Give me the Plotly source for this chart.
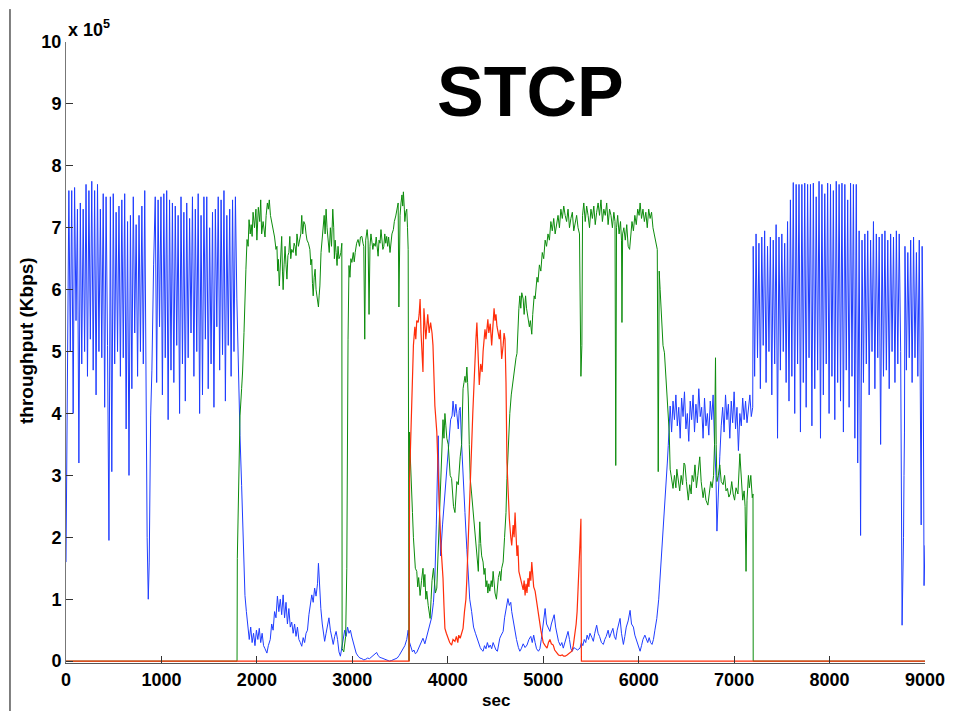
import plotly.graph_objects as go

# ---------------- data (throughput in units of 1e5 Kbps, time in sec) ----------------
# Blue flow: oscillating block 0..840 s, sampled every 15 s
blue_a_start, blue_a_step = 0, 15
blue_a_vals = [1.6, 4.5, 7.6, 5.0, 7.6, 4.0, 7.65, 5.5, 7.3, 3.2, 7.4, 4.8, 7.3, 5.0, 7.7, 4.6,
               7.6, 5.2, 7.75, 4.7, 7.6, 4.3, 7.7, 5.0, 7.3, 4.9, 7.55, 4.1, 7.5, 5.1, 1.95, 7.5,
               3.06, 7.55, 4.8, 7.25, 5.0, 7.35, 4.6, 7.45, 4.9, 7.55, 3.75, 7.1, 3.0, 7.2, 4.4,
               7.5, 5.3, 7.05, 4.6, 7.2, 5.0, 7.35, 4.8, 7.6, 3.0]
# Blue flow: dip near 860 s
blue_dip_t = [850, 862, 872, 887, 900, 918]
blue_dip_v = [2.0, 1.0, 1.6, 3.96, 4.7, 6.4]
# Blue flow: oscillating block 935..1790 s, sampled every 15 s
blue_b_start, blue_b_step = 935, 15
blue_b_vals = [7.5, 4.5, 7.45, 5.4, 7.5, 4.3, 7.55, 4.9, 7.6, 3.9, 7.45, 4.7, 7.4, 4.5, 7.35, 5.1,
               7.2, 4.0, 7.5, 4.8, 7.25, 4.2, 7.4, 4.9, 7.15, 5.3, 7.5, 4.6, 7.3, 5.0, 7.55, 4.0,
               7.2, 4.3, 7.5, 5.2, 7.5, 4.4, 7.0, 4.8, 7.25, 4.1, 7.3, 5.4, 7.5, 4.7, 7.45, 4.95,
               7.6, 4.2, 7.2, 5.1, 7.3, 4.6, 7.45, 5.0, 7.5, 5.85]
# Blue flow: 1805..7195 s
blue_mid_t = [1805, 1823, 1840, 1855, 1875, 1890, 1905, 1920, 1935, 1950, 1965, 1980, 1995, 2010,
              2025, 2040, 2055, 2070, 2085, 2105, 2120, 2140, 2155, 2170, 2185, 2200, 2215, 2230,
              2245, 2260, 2275, 2290, 2305, 2320, 2335, 2350, 2365, 2380, 2395, 2410, 2425, 2440,
              2455, 2470, 2485, 2500, 2515, 2530, 2545, 2560, 2575, 2590, 2605, 2620, 2635, 2645,
              2655, 2670, 2685, 2700, 2710, 2725, 2740, 2755, 2770, 2785, 2800, 2815, 2830, 2845,
              2860, 2875, 2890, 2905, 2920, 2935, 2950, 2965, 2980, 2995, 3010, 3025, 3040, 3060,
              3080, 3100, 3120, 3140, 3160, 3180, 3200, 3220, 3240, 3255, 3270, 3290, 3310, 3330,
              3350, 3370, 3390, 3410, 3430, 3450, 3470, 3490, 3510, 3530, 3550, 3570, 3585, 3600,
              3615, 3630, 3645, 3660, 3675, 3690, 3705, 3720, 3740, 3760, 3780, 3800, 3815, 3830,
              3850, 3865, 3880, 3890, 3900, 3910, 3925, 3945, 3965, 3990, 4010, 4030, 4045, 4055,
              4070, 4085, 4095, 4110, 4120, 4130, 4145, 4160, 4180, 4200, 4215, 4230, 4250, 4270,
              4290, 4305, 4320, 4340, 4355, 4370, 4385, 4400, 4415, 4430, 4445, 4460, 4475, 4490,
              4505, 4520, 4535, 4545, 4560, 4580, 4595, 4610, 4630, 4645, 4660, 4670, 4690, 4705,
              4720, 4740, 4755, 4770, 4790, 4810, 4830, 4850, 4870, 4885, 4900, 4915, 4930, 4950,
              4965, 4980, 4995, 5010, 5020, 5035, 5050, 5070, 5085, 5100, 5115, 5130, 5145, 5160,
              5180, 5195, 5210, 5225, 5245, 5260, 5275, 5290, 5305, 5320, 5340, 5360, 5385, 5400,
              5415, 5430, 5445, 5460, 5475, 5490, 5510, 5525, 5540, 5560, 5575, 5590, 5610, 5630,
              5645, 5660, 5680, 5695, 5710, 5730, 5745, 5760, 5775, 5790, 5805, 5820, 5840, 5855,
              5870, 5890, 5910, 5925, 5945, 5960, 5975, 5990, 6005, 6015, 6030, 6045, 6065, 6080,
              6095, 6110, 6125, 6140, 6155, 6170, 6190, 6210, 6225, 6245, 6260, 6275, 6285, 6300,
              6310, 6320, 6330, 6345, 6360, 6375, 6390, 6405, 6420, 6435, 6450, 6465, 6480, 6495,
              6510, 6525, 6540, 6555, 6570, 6585, 6600, 6615, 6630, 6645, 6660, 6675, 6690, 6705,
              6720, 6735, 6750, 6765, 6780, 6795, 6810, 6820, 6835, 6850, 6865, 6880, 6895, 6910,
              6925, 6940, 6955, 6970, 6985, 7000, 7015, 7030, 7045, 7060, 7075, 7090, 7105, 7120,
              7135, 7150, 7165, 7180, 7195]
blue_mid_v = [4.6, 3.64, 2.84, 2.03, 1.06, 0.8, 0.5, 0.35, 0.55, 0.3, 0.45, 0.25, 0.5, 0.35,
              0.53, 0.3, 0.45, 0.25, 0.2, 0.13, 0.25, 0.35, 0.6, 0.5, 0.8, 0.7, 1.05, 0.8,
              1.0, 0.75, 1.07, 0.7, 0.95, 0.6, 0.85, 0.55, 0.63, 0.45, 0.6, 0.4, 0.55, 0.35,
              0.3, 0.24, 0.38, 0.3, 0.45, 0.5, 0.75, 0.9, 1.07, 0.95, 1.18, 1.05, 1.25, 1.58,
              1.2, 0.85, 0.6, 0.4, 0.32, 0.45, 0.6, 0.7, 0.5, 0.35, 0.27, 0.4, 0.48, 0.35,
              0.15, 0.08, 0.2, 0.35, 0.5, 0.4, 0.55, 0.45, 0.5, 0.39, 0.3, 0.2, 0.13, 0.08,
              0.05, 0.04, 0.02, 0.03, 0.05, 0.04, 0.07, 0.09, 0.12, 0.14, 0.09, 0.06, 0.05, 0.04,
              0.03, 0.02, 0.0, 0.01, 0.02, 0.03, 0.05, 0.09, 0.14, 0.18, 0.25, 0.35, 0.5, 0.3,
              0.22, 0.15, 0.18, 0.12, 0.14, 0.2, 0.25, 0.3, 0.37, 0.28, 0.4, 0.5, 0.58, 0.7,
              0.95, 1.34, 2.2, 3.0, 3.64, 2.6, 1.7, 2.2, 2.6, 2.95, 3.5, 3.9, 3.96, 4.2,
              3.95, 4.15, 4.0, 3.75, 4.05, 4.1, 3.5, 2.9, 2.4, 1.8, 1.34, 1.0, 0.8, 0.55,
              0.45, 0.37, 0.3, 0.22, 0.18, 0.16, 0.25, 0.2, 0.3, 0.22, 0.26, 0.2, 0.3, 0.22,
              0.18, 0.16, 0.3, 0.37, 0.42, 0.48, 0.7, 0.85, 1.01, 0.9, 0.95, 0.8, 0.6, 0.48,
              0.35, 0.22, 0.16, 0.2, 0.28, 0.22, 0.26, 0.35, 0.4, 0.3, 0.42, 0.3, 0.2, 0.16,
              0.2, 0.35, 0.55, 0.7, 0.85, 0.6, 0.55, 0.48, 0.6, 0.7, 0.75, 0.55, 0.4, 0.32,
              0.25, 0.3, 0.21, 0.3, 0.4, 0.48, 0.35, 0.2, 0.16, 0.22, 0.2, 0.18, 0.21, 0.3,
              0.25, 0.35, 0.3, 0.42, 0.35, 0.45, 0.38, 0.32, 0.45, 0.58, 0.45, 0.4, 0.3, 0.27,
              0.35, 0.4, 0.5, 0.38, 0.45, 0.53, 0.4, 0.35, 0.5, 0.6, 0.69, 0.45, 0.27, 0.4,
              0.55, 0.65, 0.82, 0.6, 0.55, 0.42, 0.35, 0.25, 0.2, 0.16, 0.25, 0.35, 0.42, 0.35,
              0.3, 0.38, 0.3, 0.27, 0.35, 0.5, 0.69, 1.0, 1.34, 1.8, 2.14, 2.5, 2.79, 3.2,
              3.48, 3.8, 4.12, 3.7, 4.2, 3.9, 4.3, 3.8, 4.1, 3.6, 4.25, 3.95, 4.35, 3.75,
              4.0, 3.55, 4.2, 3.9, 4.3, 3.7, 4.15, 3.85, 4.4, 3.95, 4.1, 3.6, 4.25, 3.8,
              4.0, 3.65, 4.2, 3.9, 4.3, 3.5, 3.0, 2.1, 2.8, 3.3, 3.8, 4.1, 3.7, 4.3,
              3.9, 4.15, 3.6, 4.2, 3.85, 4.35, 3.75, 4.1, 3.4, 4.0, 3.8, 4.25, 3.9, 4.2,
              3.85, 4.1, 4.3, 3.95, 4.1]
# Blue flow: oscillating block 7200..8745 s, sampled every 15 s
blue_c_start, blue_c_step = 7200, 15
blue_c_vals = [6.7, 4.6, 6.9, 4.9, 6.75, 4.4, 6.85, 5.1, 6.95, 4.5, 6.7, 5.0, 6.85, 4.3, 6.8, 4.8,
               7.05, 3.6, 6.85, 4.7, 6.9, 5.0, 6.75, 4.5, 7.1, 4.2, 7.45, 4.6, 7.73, 4.0, 7.7, 4.8,
               7.7, 3.7, 7.7, 4.5, 7.72, 4.1, 7.7, 4.9, 7.7, 3.8, 7.72, 4.4, 7.5, 4.7, 7.75, 3.6,
               7.7, 4.3, 7.55, 4.8, 7.72, 4.0, 7.7, 4.6, 7.6, 3.9, 7.75, 4.5, 7.7, 4.2, 7.72, 3.7,
               7.7, 4.7, 7.45, 4.1, 7.72, 4.6, 7.7, 3.6, 7.7, 3.2, 6.95, 2.03, 6.8, 4.5, 6.9, 4.8,
               6.95, 4.3, 6.8, 5.0, 7.1, 4.4, 6.9, 4.9, 6.85, 3.5, 6.9, 4.6, 6.95, 4.7, 6.8, 4.4,
               6.9, 5.0, 6.85, 4.5, 6.95, 4.8, 6.9, 5.0]
# Blue flow: tail 8760..9000 s
blue_tail_t = [8760, 8770, 8775, 8780, 8785, 8790, 8805, 8820, 8835, 8850, 8865, 8880, 8895,
               8910, 8925, 8940, 8950, 8960, 8970, 8980, 8990, 9000]
blue_tail_v = [0.58, 1.45, 2.0, 3.0, 3.7, 6.7, 4.7, 6.6, 4.9, 6.8, 4.5, 6.85, 4.9,
               6.6, 4.6, 6.8, 4.9, 2.2, 6.7, 5.3, 1.22, 1.87]

# Green flow
green_t = [0, 1792, 1795, 1805, 1812, 1823, 1840, 1850, 1865, 1875, 1885, 1897, 1908, 1918, 1930,
           1940, 1950, 1960, 1975, 1990, 2000, 2015, 2030, 2040, 2050, 2065, 2075, 2085, 2097,
           2110, 2120, 2130, 2142, 2155, 2170, 2185, 2200, 2210, 2218, 2225, 2235, 2248, 2260,
           2268, 2275, 2285, 2295, 2305, 2315, 2325, 2335, 2345, 2355, 2365, 2380, 2390, 2400,
           2410, 2420, 2435, 2450, 2460, 2470, 2480, 2492, 2505, 2515, 2525, 2540, 2555, 2565,
           2575, 2582, 2590, 2600, 2610, 2620, 2630, 2645, 2652, 2660, 2672, 2685, 2695, 2705,
           2715, 2725, 2735, 2745, 2758, 2770, 2782, 2795, 2805, 2812, 2820, 2830, 2840, 2850,
           2860, 2870, 2880, 2890, 2893, 2910, 2930, 2942, 2947, 2955, 2965, 2975, 2985, 2995,
           3010, 3020, 3030, 3045, 3060, 3075, 3085, 3100, 3112, 3120, 3130, 3140, 3155, 3165,
           3175, 3185, 3195, 3205, 3215, 3225, 3240, 3250, 3260, 3270, 3280, 3290, 3300, 3310,
           3320, 3330, 3340, 3350, 3360, 3370, 3380, 3395, 3405, 3415, 3430, 3440, 3455, 3465,
           3480, 3488, 3500, 3510, 3520, 3528, 3535, 3545, 3550, 3560, 3570, 3578, 3585, 3594,
           3600, 3610, 3620, 3630, 3640, 3650, 3660, 3675, 3685, 3695, 3710, 3725, 3740, 3750,
           3760, 3770, 3780, 3795, 3805, 3815, 3825, 3835, 3850, 3860, 3870, 3885, 3895, 3905,
           3920, 3935, 3950, 3960, 3970, 3980, 3990, 4005, 4015, 4025, 4040, 4050, 4060, 4075,
           4085, 4095, 4110, 4120, 4130, 4145, 4155, 4160, 4170, 4180, 4190, 4200, 4208, 4215,
           4225, 4235, 4250, 4260, 4270, 4285, 4300, 4310, 4320, 4328, 4335, 4345, 4355, 4370,
           4380, 4390, 4400, 4410, 4420, 4430, 4440, 4455, 4465, 4475, 4485, 4495, 4510, 4520,
           4530, 4545, 4555, 4565, 4580, 4595, 4610, 4620, 4635, 4650, 4665, 4685, 4700, 4715,
           4725, 4735, 4745, 4755, 4765, 4775, 4790, 4800, 4815, 4825, 4840, 4855, 4865, 4880,
           4890, 4905, 4915, 4925, 4935, 4945, 4960, 4975, 4990, 5005, 5020, 5035, 5050, 5065,
           5080, 5095, 5110, 5125, 5140, 5155, 5170, 5185, 5200, 5215, 5230, 5245, 5260, 5275,
           5290, 5305, 5320, 5335, 5350, 5365, 5380, 5395, 5405, 5412, 5425, 5440, 5455, 5470,
           5485, 5500, 5515, 5530, 5545, 5560, 5575, 5590, 5605, 5620, 5635, 5650, 5665, 5680,
           5695, 5710, 5725, 5740, 5752, 5760, 5768, 5780, 5795, 5810, 5820, 5825, 5832, 5845,
           5860, 5875, 5890, 5905, 5915, 5930, 5945, 5960, 5975, 5990, 6005, 6015, 6030, 6045,
           6060, 6075, 6090, 6105, 6120, 6135, 6150, 6165, 6175, 6185, 6195, 6205, 6215, 6225,
           6240, 6255, 6270, 6285, 6300, 6310, 6320, 6330, 6345, 6360, 6375, 6390, 6400, 6415,
           6430, 6445, 6460, 6475, 6485, 6500, 6520, 6535, 6550, 6560, 6575, 6590, 6605, 6620,
           6640, 6655, 6675, 6690, 6705, 6725, 6740, 6755, 6770, 6785, 6795, 6805, 6812, 6820,
           6835, 6850, 6865, 6885, 6900, 6915, 6930, 6945, 6960, 6975, 6990, 7005, 7020, 7040,
           7060, 7075, 7090, 7105, 7115, 7125, 7135, 7150, 7160, 7175, 7190, 7198, 7200, 9000]
green_v = [0.0, 0.0, 1.66, 2.6, 3.6, 3.96, 4.4, 4.67, 5.31, 5.96, 6.33, 6.81, 6.7, 7.13, 6.9,
           7.05, 6.86, 7.25, 7.0, 7.3, 6.8, 7.33, 7.1, 7.45, 6.9, 7.1, 6.95, 6.85, 7.2,
           7.4, 7.3, 7.45, 7.2, 7.1, 6.97, 6.85, 6.65, 6.7, 6.3, 6.49, 6.06, 6.5, 6.86,
           6.3, 6.0, 6.4, 6.7, 6.4, 6.17, 6.55, 6.6, 6.86, 6.5, 6.65, 6.6, 6.75, 6.7,
           6.55, 6.9, 6.7, 6.8, 6.9, 7.2, 6.9, 7.1, 7.05, 6.9, 6.8, 6.75, 6.65, 6.4,
           6.49, 6.1, 5.9, 6.2, 6.33, 6.0, 5.9, 5.72, 5.9, 6.06, 6.6, 6.9, 7.0, 7.2,
           6.9, 7.3, 7.0, 6.8, 6.6, 7.0, 6.7, 7.3, 7.0, 6.5, 6.8, 6.6, 6.39, 6.7,
           6.5, 6.54, 6.6, 6.75, 0.2, 0.15, 0.4, 1.5, 4.12, 5.2, 6.39, 6.2, 6.5, 6.44,
           6.6, 6.45, 6.6, 6.75, 6.81, 6.7, 6.85, 6.86, 6.75, 6.7, 5.2, 6.8, 6.97, 6.8,
           5.6, 6.7, 6.9, 6.8, 6.65, 6.75, 6.7, 6.85, 6.6, 6.54, 6.8, 6.75, 6.97, 6.8,
           6.65, 6.7, 6.9, 6.75, 6.86, 6.7, 6.85, 6.6, 6.8, 6.9, 6.97, 7.1, 7.19, 7.3,
           7.4, 5.72, 7.2, 7.4, 7.53, 7.35, 7.58, 7.3, 7.1, 7.25, 7.3, 7.0, 6.65, 0.0,
           3.7, 3.2, 2.9, 2.4, 2.0, 1.8, 1.5, 1.45, 1.2, 1.35, 1.06, 1.3, 1.5, 1.2,
           1.4, 1.0, 1.13, 0.9, 0.8, 0.69, 1.0, 1.3, 1.5, 1.3, 1.1, 1.18, 1.6, 2.0,
           2.4, 3.2, 3.9, 3.6, 4.0, 3.8, 3.6, 3.5, 3.2, 3.0, 2.95, 2.7, 2.5, 2.4,
           2.6, 2.9, 2.85, 3.1, 3.3, 3.5, 4.0, 4.4, 4.5, 4.6, 4.5, 4.75, 4.5, 4.25,
           3.5, 2.95, 2.7, 2.5, 2.3, 2.14, 1.8, 1.6, 1.45, 1.9, 2.25, 1.9, 1.7, 1.6,
           1.4, 1.5, 1.2, 1.3, 1.1, 1.25, 1.13, 1.3, 1.2, 1.45, 1.2, 1.1, 1.0, 1.2,
           1.35, 1.45, 1.3, 1.5, 1.6, 2.0, 2.4, 2.95, 3.5, 4.0, 4.3, 4.56, 4.7, 4.9,
           4.97, 5.52, 5.7, 5.9, 5.7, 5.95, 5.85, 5.6, 5.9, 5.7, 5.57, 5.4, 5.5, 5.28,
           5.6, 5.9, 5.85, 6.0, 6.2, 6.12, 6.4, 6.3, 6.6, 6.5, 6.8, 6.7, 6.9, 6.8,
           7.1, 6.95, 7.15, 6.9, 7.05, 7.2, 7.0, 7.3, 7.15, 7.35, 7.2, 7.1, 7.3, 7.0,
           7.15, 7.25, 6.95, 7.1, 7.2, 7.0, 6.9, 4.6, 5.1, 7.2, 7.4, 7.1, 7.35, 7.2,
           7.0, 7.3, 7.15, 7.35, 7.05, 7.25, 7.4, 7.2, 7.45, 7.1, 7.3, 7.2, 7.4, 7.05,
           7.3, 7.2, 7.0, 7.25, 7.1, 3.16, 7.0, 7.2, 6.9, 7.1, 6.8, 5.47, 6.9, 7.0,
           6.8, 7.05, 6.7, 6.65, 6.9, 7.1, 6.95, 7.2, 7.05, 7.3, 7.2, 7.4, 7.15, 7.3,
           7.1, 7.25, 7.0, 7.3, 7.15, 7.25, 7.0, 6.9, 6.8, 6.75, 6.65, 3.06, 6.3, 6.0,
           5.63, 5.1, 4.98, 4.6, 4.35, 3.9, 3.7, 3.1, 2.9, 2.79, 3.0, 2.8, 3.1, 2.9,
           2.75, 3.0, 2.85, 3.2, 3.17, 2.9, 2.6, 2.85, 2.7, 3.0, 2.9, 3.17, 2.8, 3.0,
           3.3, 2.9, 2.64, 2.8, 2.6, 2.52, 2.75, 2.9, 2.8, 3.0, 3.5, 4.9, 3.5, 2.9,
           3.0, 3.17, 2.9, 2.85, 3.0, 2.75, 2.79, 2.65, 2.7, 2.9, 2.7, 2.6, 2.8, 2.7,
           3.35, 2.9, 2.6, 2.75, 2.5, 1.45, 2.6, 3.0, 2.8, 3.0, 2.64, 2.7, 0.0, 0.0]

# Red flow
red_t = [0, 3594, 3600, 3625, 3640, 3655, 3665, 3675, 3690, 3700, 3710, 3720, 3730, 3740, 3750,
         3760, 3770, 3780, 3790, 3805, 3820, 3835, 3845, 3855, 3865, 3885, 3900, 3920, 3935,
         3950, 3960, 3970, 3985, 4005, 4020, 4040, 4055, 4075, 4090, 4105, 4115, 4130, 4145,
         4160, 4175, 4190, 4200, 4215, 4225, 4240, 4250, 4262, 4275, 4285, 4295, 4305, 4315,
         4322, 4330, 4345, 4360, 4370, 4380, 4390, 4400, 4410, 4420, 4430, 4445, 4460, 4470,
         4485, 4495, 4505, 4515, 4530, 4540, 4550, 4565, 4580, 4590, 4600, 4610, 4620, 4630,
         4645, 4660, 4670, 4685, 4695, 4705, 4715, 4725, 4735, 4745, 4760, 4775, 4790, 4800,
         4810, 4820, 4830, 4840, 4850, 4860, 4870, 4880, 4890, 4900, 4915, 4930, 4945, 4960,
         4975, 4985, 5000, 5020, 5040, 5055, 5070, 5085, 5105, 5120, 5140, 5160, 5180, 5200,
         5215, 5230, 5250, 5270, 5285, 5300, 5315, 5330, 5345, 5355, 5365, 5375, 5385, 5395,
         5400, 9000]
red_v = [0.0, 0.0, 2.95, 4.28, 5.1, 5.4, 5.2, 5.5, 5.47, 5.6, 5.85, 5.3, 5.0, 4.67, 5.7,
         5.5, 5.2, 5.4, 5.6, 5.3, 5.47, 5.3, 5.1, 4.6, 4.12, 3.7, 2.95, 2.14, 1.7,
         1.34, 0.9, 0.53, 0.45, 0.37, 0.3, 0.26, 0.35, 0.32, 0.4, 0.3, 0.42, 0.37, 0.45,
         0.53, 0.8, 1.0, 1.34, 1.9, 2.4, 3.0, 3.48, 4.0, 4.56, 5.0, 5.2, 5.47, 5.0,
         4.7, 4.46, 4.8, 4.67, 5.0, 5.2, 5.36, 5.2, 5.4, 5.52, 5.3, 5.45, 5.1, 5.4,
         5.7, 5.5, 5.6, 5.41, 5.3, 5.2, 5.35, 4.88, 5.1, 5.3, 5.2, 4.5, 3.2, 2.68,
         2.3, 2.0, 1.87, 2.2, 2.0, 2.4, 2.0, 1.7, 1.87, 1.45, 1.35, 1.24, 1.15, 1.3,
         1.06, 1.25, 1.1, 1.34, 1.2, 1.45, 1.3, 1.6, 1.3, 1.2, 1.13, 0.95, 0.8, 0.6,
         0.5, 0.42, 0.3, 0.25, 0.21, 0.3, 0.35, 0.28, 0.26, 0.18, 0.14, 0.1, 0.09, 0.1,
         0.08, 0.08, 0.1, 0.12, 0.14, 0.16, 0.25, 0.4, 0.6, 0.8, 1.1, 1.5, 1.9, 2.3,
         0.0, 0.0]

x_ticks = [0, 1000, 2000, 3000, 4000, 5000, 6000, 7000, 8000, 9000]
y_ticks = [0, 1, 2, 3, 4, 5, 6, 7, 8, 9, 10]

# ---------------- assemble blue series ----------------
blue_t, blue_v = [], []
blue_t += [blue_a_start + i * blue_a_step for i in range(len(blue_a_vals))]
blue_v += blue_a_vals
blue_t += blue_dip_t
blue_v += blue_dip_v
blue_t += [blue_b_start + i * blue_b_step for i in range(len(blue_b_vals))]
blue_v += blue_b_vals
blue_t += blue_mid_t
blue_v += blue_mid_v
blue_t += [blue_c_start + i * blue_c_step for i in range(len(blue_c_vals))]
blue_v += blue_c_vals
blue_t += blue_tail_t
blue_v += blue_tail_v

FONT = "Liberation Sans, Arial, Helvetica, sans-serif"

fig = go.Figure()
fig.add_trace(go.Scatter(x=blue_t, y=blue_v, mode="lines",
                         line=dict(color="#1f3dff", width=1), showlegend=False))
fig.add_trace(go.Scatter(x=green_t, y=green_v, mode="lines",
                         line=dict(color="#0c8c0c", width=1), showlegend=False))
fig.add_trace(go.Scatter(x=red_t, y=red_v, mode="lines",
                         line=dict(color="#ff2d0a", width=1.2), showlegend=False))

fig.update_layout(
    width=972, height=711,
    margin=dict(l=58, r=55, t=34, b=56),
    paper_bgcolor="white", plot_bgcolor="white",
    font=dict(family=FONT, color="black"),
    xaxis=dict(range=[0, 9000], tickvals=x_ticks, ticktext=[str(v) for v in x_ticks],
               ticks="inside", ticklen=7, tickwidth=1, tickcolor="#333333",
               showline=True, linecolor="#555555", linewidth=1,
               showgrid=False, zeroline=False,
               tickfont=dict(family=FONT, size=18, weight="bold", color="black")),
    yaxis=dict(range=[-0.03, 10], tickvals=y_ticks, ticktext=[str(v) for v in y_ticks],
               ticks="inside", ticklen=7, tickwidth=1, tickcolor="#333333",
               showline=True, linecolor="#777777", linewidth=1,
               showgrid=False, zeroline=False,
               tickfont=dict(family=FONT, size=18, weight="bold", color="black")),
    annotations=[
        dict(text="<b>STCP</b>", x=0.541, y=0.919, xref="paper", yref="paper",
             showarrow=False, font=dict(family=FONT, size=70, color="black"),
             xanchor="center", yanchor="middle"),
        dict(text="<b>x 10<sup>5</sup></b>", x=0.0, y=1.0, xref="paper", yref="paper",
             showarrow=False, font=dict(family=FONT, size=18, color="black"),
             xanchor="left", yanchor="bottom", yshift=0),
        dict(text="<b>sec</b>", x=0.5, y=-0.0596, xref="paper", yref="paper",
             showarrow=False, font=dict(family=FONT, size=17, color="black"),
             xanchor="center", yanchor="middle"),
        dict(text="<b>throughput (Kbps)</b>", x=-0.0466, y=0.52, xref="paper", yref="paper",
             showarrow=False, textangle=-90, font=dict(family=FONT, size=19, color="black"),
             xanchor="center", yanchor="middle"),
    ],
    shapes=[
        dict(type="line", xref="paper", yref="paper", x0=-0.0652, x1=-0.0652,
             y0=-0.08, y1=1.053, line=dict(color="black", width=1)),
    ],
)

fig.write_html("out.html")
